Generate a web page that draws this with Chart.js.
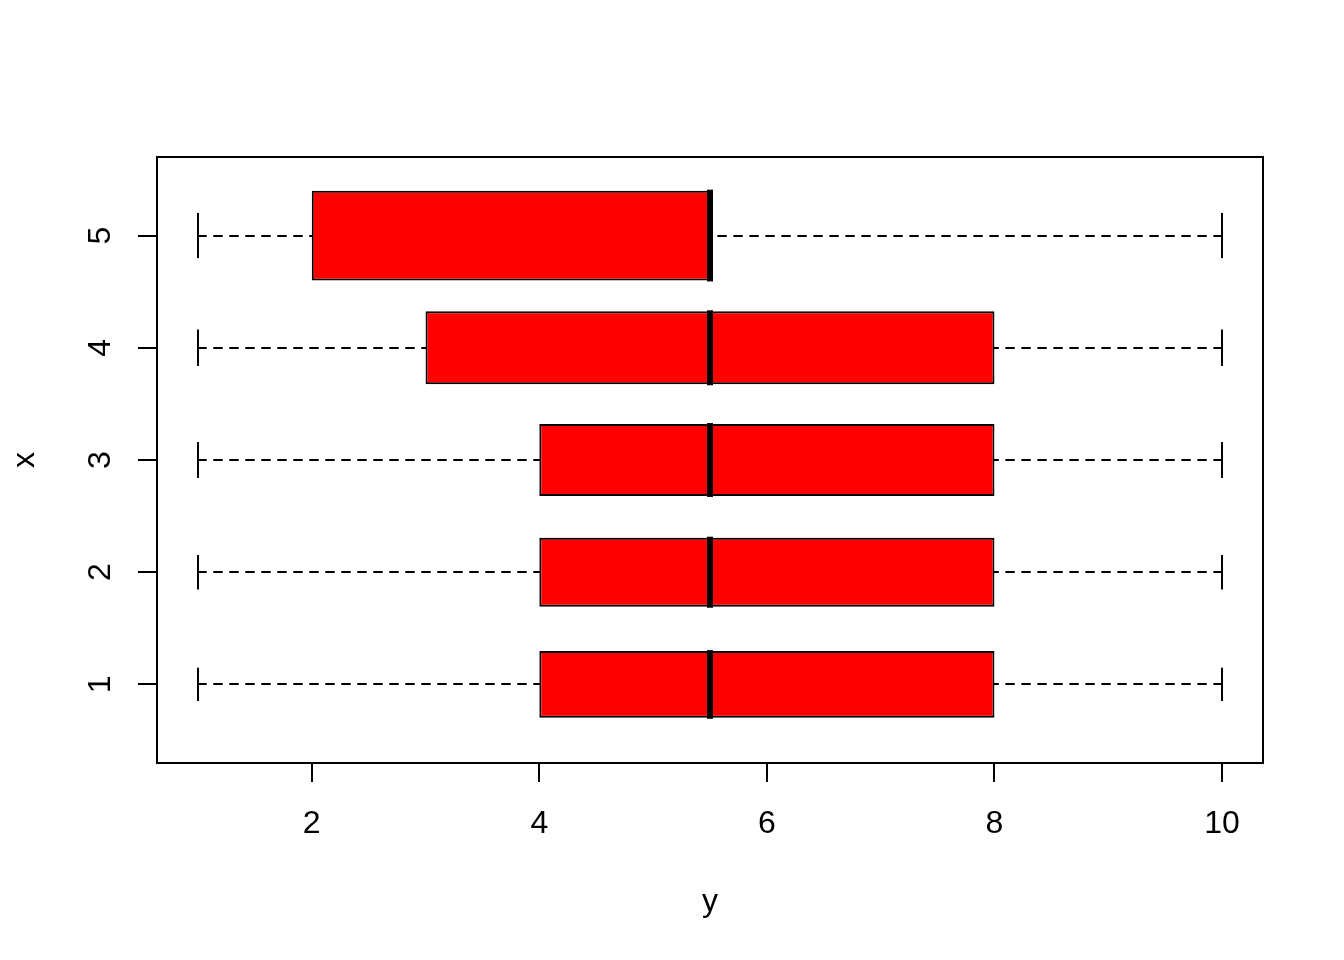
<!DOCTYPE html>
<html>
<head>
<meta charset="utf-8">
<script src="https://cdn.jsdelivr.net/npm/chart.js@4"></script>
<style>
  html, body { margin: 0; padding: 0; background: #fff; }
  #wrap { width: 1344px; height: 960px; }
</style>
</head>
<body>
<div id="wrap"><canvas id="boxChart" width="1344" height="960"></canvas></div>
<script>
// groups of x
const groups = [1, 2, 3, 4, 5];
const whiskerLow = [1, 1, 1, 1, 1];
const lowerQuartile = [4, 4, 4, 3, 2];
const medians = [5.5, 5.5, 5.5, 5.5, 5.5];
const upperQuartile = [8, 8, 8, 8, 5.5];
const whiskerHigh = [10, 10, 10, 10, 10];
// relative box widths (varwidth), in group units
const boxWidths = [0.594, 0.615, 0.64, 0.65, 0.8];

const xTicks = [2, 4, 6, 8, 10];
const yTicks = [1, 2, 3, 4, 5];

Chart.defaults.font.family = "'Liberation Sans', Arial, sans-serif";
Chart.defaults.font.size = 32;
Chart.defaults.color = '#000';

const datasets = groups.map((g, i) => ({
  data: [{ y: g, x: [lowerQuartile[i], upperQuartile[i]] }],
  backgroundColor: '#ff0000',
  borderColor: '#000',
  borderWidth: 2,
  borderSkipped: false,
  categoryPercentage: 1,
  barPercentage: boxWidths[i],
  grouped: false
}));

const boxParts = {
  id: 'boxParts',
  beforeDatasetsDraw(chart) {
    const { ctx, scales: { x, y } } = chart;
    ctx.save();
    ctx.strokeStyle = '#000';
    ctx.lineWidth = 2;
    groups.forEach((g, i) => {
      const py = Math.round(y.getPixelForValue(g));
      // dashed whiskers, drawn from the ends towards the box
      ctx.setLineDash([8, 8]);
      ctx.lineCap = 'round';
      ctx.beginPath();
      ctx.moveTo(x.getPixelForValue(whiskerLow[i]), py);
      ctx.lineTo(x.getPixelForValue(lowerQuartile[i]), py);
      ctx.moveTo(x.getPixelForValue(whiskerHigh[i]), py);
      ctx.lineTo(x.getPixelForValue(upperQuartile[i]), py);
      ctx.stroke();
      // staples
      ctx.setLineDash([]);
      ctx.lineCap = 'butt';
      const top = y.getPixelForValue(g + boxWidths[i] / 4);
      const bot = y.getPixelForValue(g - boxWidths[i] / 4);
      ctx.beginPath();
      [whiskerLow[i], whiskerHigh[i]].forEach(v => {
        const px = Math.round(x.getPixelForValue(v));
        ctx.moveTo(px, top);
        ctx.lineTo(px, bot);
      });
      ctx.stroke();
    });
    ctx.restore();
  },
  afterDatasetsDraw(chart) {
    const { ctx, scales: { x, y } } = chart;
    ctx.save();
    ctx.strokeStyle = '#000';
    ctx.lineWidth = 6;
    ctx.lineCap = 'butt';
    groups.forEach((g, i) => {
      const px = Math.round(x.getPixelForValue(medians[i]));
      ctx.beginPath();
      ctx.moveTo(px, y.getPixelForValue(g + boxWidths[i] / 2) - 1);
      ctx.lineTo(px, y.getPixelForValue(g - boxWidths[i] / 2) + 1);
      ctx.stroke();
    });
    // plot frame
    const a = chart.chartArea;
    ctx.lineWidth = 2;
    ctx.strokeRect(a.left, a.top, a.right - a.left, a.bottom - a.top);
    ctx.restore();
  }
};

const axisGrid = {
  display: true,
  drawOnChartArea: false,
  drawTicks: true,
  offset: false,
  tickLength: 19,
  color: '#000',
  lineWidth: 2
};

new Chart(document.getElementById('boxChart').getContext('2d'), {
  type: 'bar',
  data: { datasets },
  options: {
    indexAxis: 'y',
    responsive: false,
    animation: false,
    layout: { padding: { top: 157, right: 81, left: 0, bottom: 0 } },
    plugins: {
      legend: { display: false },
      tooltip: { enabled: false }
    },
    scales: {
      x: {
        type: 'linear',
        min: 0.64,
        max: 10.36,
        offset: false,
        grid: axisGrid,
        border: { display: true, color: '#000', width: 2 },
        ticks: { padding: 23, autoSkip: false, maxRotation: 0 },
        afterBuildTicks: s => { s.ticks = xTicks.map(v => ({ value: v })); },
        afterFit: s => { s.height = 197; },
        title: { display: true, text: 'y', padding: { top: 0, bottom: 39 } }
      },
      y: {
        type: 'linear',
        min: 0.3,
        max: 5.7,
        offset: false,
        grid: axisGrid,
        border: { display: true, color: '#000', width: 2 },
        ticks: { padding: 28, autoSkip: false, minRotation: 90, maxRotation: 90, crossAlign: 'center' },
        afterBuildTicks: s => { s.ticks = yTicks.map(v => ({ value: v })); },
        afterFit: s => { s.width = 157; },
        title: { display: true, text: 'x', padding: { top: 6, bottom: 0 } }
      }
    }
  },
  plugins: [boxParts]
});
</script>
</body>
</html>
